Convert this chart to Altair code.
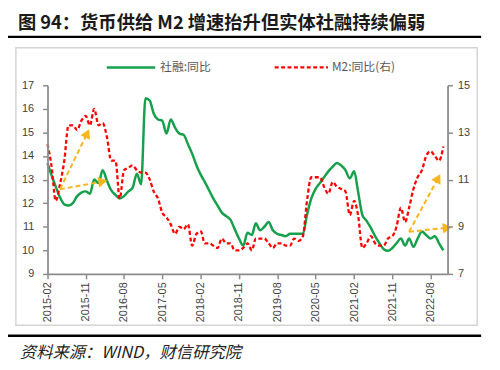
import math
import altair as alt
import pandas as pd

# ---------------- data ----------------
start_month = "2015-02-01"
end_month = "2022-11-01"

# 社融:同比 (left axis, %)
tsf = [13.7, 13.2, 12.7, 12.25, 11.95, 11.9, 12.0, 12.3, 12.45, 12.5,
       12.4, 13.0, 12.85, 13.4, 12.95, 12.55, 12.35, 12.2, 12.3, 12.5,
       12.65, 13.25, 12.8, 16.45, 16.35, 15.8, 15.55, 15.5, 14.95, 15.55,
       15.2, 14.95, 14.9, 14.5, 14.1, 13.6, 13.2, 12.9, 12.55, 12.2,
       11.9, 11.6, 11.45, 11.3, 10.9, 10.5, 10.2, 10.75, 10.65, 11.15,
       10.85, 11.0, 11.2, 10.85, 10.7, 10.65, 10.6, 10.7, 10.7, 10.7,
       10.7, 11.5, 12.2, 12.6, 12.85, 13.1, 13.35, 13.55, 13.7, 13.6,
       13.4, 13.05, 13.35, 12.5, 11.5, 11.25, 10.95, 10.6, 10.3, 10.05,
       9.98, 10.1, 10.3, 10.5, 10.2, 10.5, 10.15, 10.5, 10.8, 10.65,
       10.5, 10.6, 10.3, 10.0]

# M2:同比 (right axis, %)
m2 = [12.5, 11.6, 10.1, 10.8, 11.8, 13.3, 13.3, 13.1, 13.5, 13.7,
      13.3, 14.0, 13.3, 13.4, 12.8, 11.8, 11.8, 10.2, 11.4, 11.5,
      11.6, 11.4, 11.3, 11.3, 11.0, 10.5, 10.2, 9.6, 9.4, 9.1,
      8.7, 9.0, 8.9, 9.1, 8.2, 8.7, 8.8, 8.3, 8.3, 8.2,
      8.1, 8.5, 8.3, 8.3, 8.0, 8.0, 8.1, 8.3, 8.0, 8.5,
      8.5, 8.5, 8.3, 8.1, 8.3, 8.3, 8.2, 8.2, 8.5, 8.4,
      8.6, 10.1, 11.1, 11.1, 11.1, 10.7, 10.4, 10.9, 10.7, 10.6,
      10.5, 9.5, 10.1, 9.5, 8.1, 8.3, 8.6, 8.3, 8.2, 8.2,
      8.5, 8.6, 9.0, 9.8, 9.2, 9.8, 10.6, 11.1, 11.4, 12.0,
      12.2, 12.0, 11.8, 12.4]

x_ticks = ["2015-02", "2015-11", "2016-08", "2017-05", "2018-02", "2018-11",
           "2019-08", "2020-05", "2021-02", "2021-11", "2022-08"]
x_domain = ["2015-02", "2022-12"]
left_ticks = [9, 10, 11, 12, 13, 14, 15, 16, 17]
right_ticks = [7, 9, 11, 13, 15]

# annotation arrows (in right-axis units)
arrow_from_date = ["2015-05-01", "2015-05-01", "2022-03-01", "2022-03-01"]
arrow_from_val = [10.59, 10.59, 8.79, 8.79]
arrow_to_date = ["2015-11-07", "2016-02-21", "2022-09-19", "2022-11-19"]
arrow_to_val = [12.9, 10.91, 11.0, 8.95]

title_text = "图 94：货币供给 M2 增速抬升但实体社融持续偏弱"
source_text = "资料来源：WIND，财信研究院"
legend_labels = ["社融:同比", "M2:同比(右)"]

# ---------------- style ----------------
W, H = 405, 191
GREEN = "#16A04C"
RED = "#FF0000"
GOLD = "#F7B51E"
CJK = "Noto Sans CJK SC"

dates = pd.date_range(start_month, end_month, freq="MS")
df = pd.DataFrame({"date": dates, "tsf": tsf, "m2": m2})


def dt(s):
    return alt.DateTime(year=int(s[:4]), month=int(s[5:7]), date=1)


x_scale = alt.Scale(domain=[dt(x_domain[0]), dt(x_domain[1])])
x_axis = alt.Axis(values=[dt(s) for s in x_ticks], format="%Y-%m", labelAngle=-90,
                  title=None, tickSize=5, labelPadding=3, zindex=2)

# pixel scale factors (for arrow-head rotation only)
px_per_day = W / (pd.Timestamp("2022-12-01") - pd.Timestamp("2015-02-01")).days
px_per_unit = H / 8.0

adf = pd.DataFrame({
    "x0": pd.to_datetime(arrow_from_date), "y0": arrow_from_val,
    "x1": pd.to_datetime(arrow_to_date), "y1": arrow_to_val,
})
adf["ang"] = [
    (math.degrees(math.atan2((b - a).days * px_per_day, (v1 - v0) * px_per_unit)) + 360) % 360
    for a, b, v0, v1 in zip(adf["x0"], adf["x1"], adf["y0"], adf["y1"])
]

green = alt.Chart(df).mark_line(color=GREEN, strokeWidth=2.5, interpolate="monotone").encode(
    x=alt.X("date:T", scale=x_scale, axis=x_axis),
    y=alt.Y("tsf:Q", scale=alt.Scale(domain=[9, 17], nice=False, zero=False),
            axis=alt.Axis(values=left_ticks, title=None, tickSize=5, labelPadding=9, zindex=2)),
)

red = alt.Chart(df).mark_line(color=RED, strokeWidth=2.3, strokeDash=[4, 2.5],
                              interpolate="monotone").encode(
    x=alt.X("date:T", scale=x_scale, axis=x_axis),
    y=alt.Y("m2:Q", scale=alt.Scale(domain=[7, 15], nice=False, zero=False),
            axis=alt.Axis(values=right_ticks, orient="right", title=None,
                          tickSize=5, labelPadding=5, zindex=2)),
)

arrow_lines = alt.Chart(adf).mark_rule(color=GOLD, strokeWidth=2, strokeDash=[5, 3]).encode(
    x=alt.X("x0:T", title=None), x2="x1:T",
    y=alt.Y("y0:Q", title=None), y2="y1:Q",
)
arrow_heads = alt.Chart(adf).mark_point(shape="triangle", filled=True, size=115,
                                        opacity=1, color=GOLD).encode(
    x=alt.X("x1:T", title=None),
    y=alt.Y("y1:Q", title=None),
    angle=alt.Angle("ang:Q", scale=None),
)

right_layer = alt.layer(red, arrow_lines, arrow_heads)

dummy = pd.DataFrame({"a": [0]})
box = alt.Chart(dummy).mark_rect(fillOpacity=0, stroke="#d4d4d4", strokeWidth=1.5).encode(
    x=alt.value(-32), x2=alt.value(435), y=alt.value(-38), y2=alt.value(243))
top_line = alt.Chart(dummy).mark_rule(color="black", strokeWidth=2.5).encode(
    x=alt.value(-42), x2=alt.value(439), y=alt.value(-49))
bottom_line = alt.Chart(dummy).mark_rule(color="black", strokeWidth=2.5).encode(
    x=alt.value(-42), x2=alt.value(439), y=alt.value(253.5))
title = alt.Chart(dummy).mark_text(align="left", baseline="alphabetic", font=CJK,
                                   fontSize=18.5, fontWeight="bold", color="#1a1a1a").encode(
    x=alt.value(-30), y=alt.value(-56.5), text=alt.value(title_text))
source = alt.Chart(dummy).mark_text(align="left", baseline="alphabetic", font=CJK,
                                    fontSize=16.5, fontStyle="italic", color="#222222").encode(
    x=alt.value(-28), y=alt.value(276), text=alt.value(source_text))
leg_g = alt.Chart(dummy).mark_rule(color=GREEN, strokeWidth=2.5).encode(
    x=alt.value(60), x2=alt.value(109), y=alt.value(-18))
leg_r = alt.Chart(dummy).mark_rule(color=RED, strokeWidth=2.3, strokeDash=[4, 2.5]).encode(
    x=alt.value(230), x2=alt.value(284), y=alt.value(-18))
leg_gt = alt.Chart(dummy).mark_text(align="left", baseline="middle", font=CJK,
                                    fontSize=12, color="#595959").encode(
    x=alt.value(114), y=alt.value(-18), text=alt.value(legend_labels[0]))
leg_rt = alt.Chart(dummy).mark_text(align="left", baseline="middle", font=CJK,
                                    fontSize=12, color="#595959").encode(
    x=alt.value(288), y=alt.value(-18), text=alt.value(legend_labels[1]))

chart = alt.layer(
    box, green, right_layer, top_line, bottom_line, title, source,
    leg_g, leg_r, leg_gt, leg_rt,
).resolve_scale(y="independent").properties(
    width=W, height=H,
    autosize=alt.AutoSizeParams(type="none"),
    padding={"left": 40, "top": 76, "right": 45, "bottom": 92},
).configure_view(stroke=None).configure_axis(
    labelFont="Liberation Sans", labelFontSize=11, labelColor="#404040",
    domainColor="#8c8c8c", tickColor="#8c8c8c", domainWidth=1.8, tickWidth=1.5,
    grid=False,
)

chart.save("out.html", embed_options={"renderer": "svg", "actions": False})
